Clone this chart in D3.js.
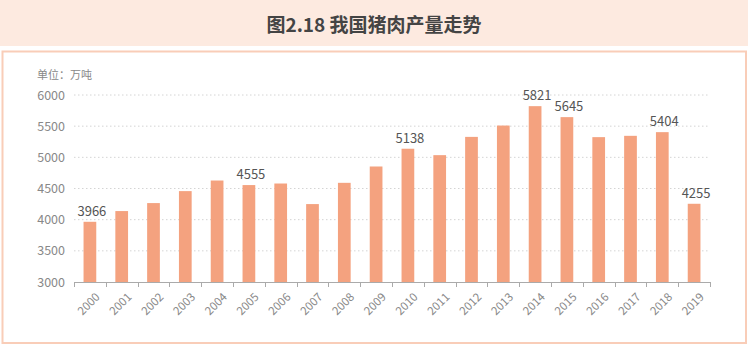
<!DOCTYPE html>
<html>
<head>
<meta charset="utf-8">
<script src="https://cdn.jsdelivr.net/npm/d3@7/dist/d3.min.js"></script>
<style>
  html, body { margin: 0; padding: 0; background: #fff; }
  svg { display: block; font-family: "Noto Sans CJK SC", "Noto Sans", sans-serif; }
</style>
</head>
<body>
<svg id="chart" width="748" height="346"></svg>
<script>
// Pork output by year (10k tonnes)
const years = ["2000","2001","2002","2003","2004","2005","2006","2007","2008","2009",
               "2010","2011","2012","2013","2014","2015","2016","2017","2018","2019"];
const output = [3966, 4138, 4266, 4458, 4628, 4555, 4580, 4250, 4591, 4853,
                5138, 5035, 5328, 5510, 5821, 5645, 5324, 5345, 5404, 4255];
// Years whose value is printed above the bar
const labelledYears = ["2000","2005","2010","2014","2015","2018","2019"];
const yTicks = [3000, 3500, 4000, 4500, 5000, 5500, 6000];
const titleText = "图2.18 我国猪肉产量走势";
const unitText = "单位：万吨";

const svg = d3.select("#chart");
const W = 748, H = 346;

// Title band
svg.append("rect").attr("x", 0).attr("y", 0).attr("width", W).attr("height", 46)
  .attr("fill", "#FDEAE0");
svg.append("text").attr("x", 374).attr("y", 32).attr("text-anchor", "middle")
  .attr("font-size", 19).attr("font-weight", "bold").attr("fill", "#444")
  .text(titleText);

// Chart panel frame
svg.append("rect").attr("x", 2.5).attr("y", 51.5).attr("width", W - 4.5).attr("height", 291.5)
  .attr("fill", "#fff").attr("stroke", "#F9CDB8").attr("stroke-width", 2);

const x = d3.scaleBand().domain(years).range([74, 710]).paddingInner(0.6).paddingOuter(0.3);
const y = d3.scaleLinear().domain([3000, 6000]).range([282, 95]);

// Unit caption
svg.append("text").attr("x", 37).attr("y", 79).attr("font-size", 11).attr("fill", "#888")
  .text(unitText);

// Dotted grid lines
svg.append("g").selectAll("line").data(yTicks.filter(t => t > 3000)).join("line")
  .attr("x1", 74).attr("x2", 710)
  .attr("y1", d => y(d)).attr("y2", d => y(d))
  .attr("stroke", "#d4d4d4").attr("stroke-width", 1).attr("stroke-dasharray", "1.5,2.5");

// Y axis labels
const yAxis = d3.axisLeft(y).tickValues(yTicks).tickFormat(d3.format("d")).tickSize(0).tickPadding(9);
svg.append("g").attr("transform", "translate(74,0)").call(yAxis)
  .call(g => g.select(".domain").remove())
  .call(g => g.selectAll("text").attr("font-size", 12.5).attr("fill", "#888")
    .attr("font-family", "'Noto Sans CJK SC', sans-serif"));

// Bars
svg.append("g").selectAll("rect").data(years).join("rect")
  .attr("x", d => x(d))
  .attr("width", x.bandwidth())
  .attr("y", (d, i) => y(output[i]))
  .attr("height", (d, i) => y(3000) - y(output[i]))
  .attr("fill", "#F4A27F");

// Value labels
svg.append("g").selectAll("text").data(years.filter(d => labelledYears.includes(d))).join("text")
  .attr("x", d => x(d) + x.bandwidth() / 2 + 2)
  .attr("y", d => y(output[years.indexOf(d)]) - 6)
  .attr("text-anchor", "middle").attr("font-size", 13).attr("fill", "#555")
  .text(d => output[years.indexOf(d)]);

// X axis baseline with ticks at band boundaries
const step = x.step();
const bounds = d3.range(years.length + 1).map(i => 74 + i * step);
const xg = svg.append("g");
xg.append("line").attr("x1", 74).attr("x2", 710).attr("y1", 282.5).attr("y2", 282.5)
  .attr("stroke", "#aaa").attr("stroke-width", 1);
xg.selectAll("line.tk").data(bounds).join("line").attr("class", "tk")
  .attr("x1", d => Math.round(d) + 0.5).attr("x2", d => Math.round(d) + 0.5)
  .attr("y1", 282).attr("y2", 287)
  .attr("stroke", "#aaa").attr("stroke-width", 1);

// Rotated year labels
xg.selectAll("text").data(years).join("text")
  .attr("transform", d => `translate(${x(d) + x.bandwidth() / 2 + 5},${292}) rotate(-45)`)
  .attr("text-anchor", "end").attr("dy", "0.7em")
  .attr("font-size", 11.5).attr("fill", "#888")
  .text(d => d);
</script>
</body>
</html>
